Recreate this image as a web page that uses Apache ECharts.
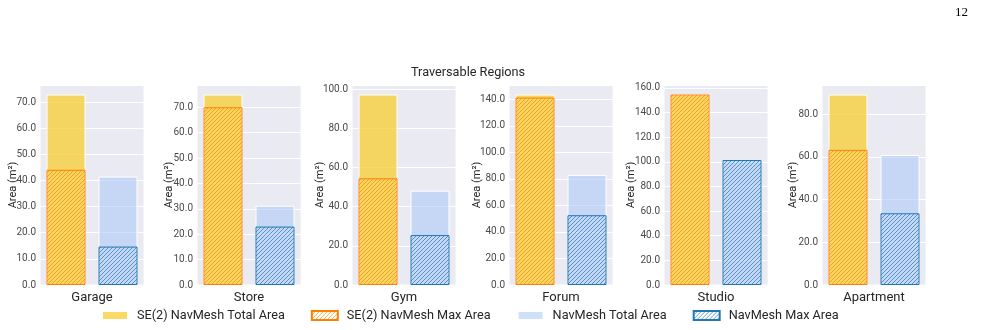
<!DOCTYPE html>
<html>
<head>
<meta charset="utf-8">
<script src="https://cdn.jsdelivr.net/npm/echarts@6/dist/echarts.min.js"></script>
<style>
  html, body { margin: 0; padding: 0; background: #fff; }
  #chart { width: 986px; height: 330px; }
</style>
</head>
<body>
<div id="chart"></div>
<script>
// values (m²)
var scenes = ['Garage', 'Store', 'Gym', 'Forum', 'Studio', 'Apartment'];
var se2Total = [72.9, 75.0, 97.3, 143.6, 154.7, 89.2];
var se2Max = [44.1, 70.0, 54.5, 141.3, 154.7, 63.3];
var navTotal = [41.5, 31.2, 48.2, 83.0, 101.5, 60.9];
var navMax = [14.7, 23.0, 25.5, 52.6, 101.5, 33.6];
var tickStep = [10, 10, 20, 20, 20, 20];
var seriesNames = ['SE(2) NavMesh Total Area', 'SE(2) NavMesh Max Area', 'NavMesh Total Area', 'NavMesh Max Area'];

// layout
var gridLeft = [40, 197, 352, 509, 664, 822];
var gridWidth = 104;
var yNameGap = [21, 22, 26, 26, 27, 23];

// diagonal hatch tile, like matplotlib '////'
function hatch(color) {
  var c = document.createElement('canvas');
  c.width = 4; c.height = 4;
  var g = c.getContext('2d');
  g.strokeStyle = color;
  g.lineWidth = 1;
  g.beginPath();
  g.moveTo(0, 4); g.lineTo(4, 0);
  g.moveTo(-1, 1); g.lineTo(1, -1);
  g.moveTo(3, 5); g.lineTo(5, 3);
  g.stroke();
  return c;
}

var yellow = 'rgba(247, 205, 50, 0.75)';
var lightBlue = 'rgba(160, 195, 245, 0.5)';
var orange = '#ff8000';
var blue = '#1f77b4';
var orangeHatch = { image: hatch('rgba(255, 140, 10, 0.75)'), repeat: 'repeat' };
var blueHatch = { image: hatch('rgba(31, 119, 180, 0.7)'), repeat: 'repeat' };

var grids = [], xAxes = [], yAxes = [], series = [];

scenes.forEach(function (name, i) {
  var top = Math.max(se2Total[i], se2Max[i], navTotal[i], navMax[i]) * 1.05;
  var step = tickStep[i];
  grids.push({
    left: gridLeft[i], top: 85, width: gridWidth, height: 200,
    show: true, backgroundColor: '#EAEAF2', borderColor: '#fff', borderWidth: 1
  });
  xAxes.push({
    type: 'category', gridIndex: i, data: ['SE(2)', 'NavMesh'],
    axisLine: { show: false }, axisTick: { show: false }, axisLabel: { show: false },
    splitLine: { show: false },
    name: name, nameLocation: 'middle', nameGap: 6,
    nameTextStyle: { fontSize: 13, color: '#262626', fontFamily: 'Roboto' }
  });
  yAxes.push({
    type: 'value', gridIndex: i, min: 0, max: top, interval: step,
    axisLine: { show: false }, axisTick: { show: false },
    splitLine: { lineStyle: { color: '#fff', width: 1 } },
    axisLabel: {
      fontSize: 10, color: '#4a4a4a', fontFamily: 'Roboto', margin: 4,
      formatter: function (v) {
        var k = v / step;
        return Math.abs(k - Math.round(k)) < 1e-6 ? v.toFixed(1) : '';
      }
    },
    name: 'Area (m²)', nameLocation: 'middle', nameRotate: 90, nameGap: yNameGap[i],
    nameMoveOverlap: false,
    nameTextStyle: { fontSize: 11, color: '#262626', fontFamily: 'Roboto' }
  });

  var common = { type: 'bar', xAxisIndex: i, yAxisIndex: i, barWidth: '75%', barGap: '-100%', animation: false };
  series.push(Object.assign({}, common, {
    name: seriesNames[0], data: [se2Total[i], '-'],
    itemStyle: { color: yellow, borderColor: '#fff', borderWidth: 1 }
  }));
  series.push(Object.assign({}, common, {
    name: seriesNames[2], data: ['-', navTotal[i]],
    itemStyle: { color: lightBlue, borderColor: '#fff', borderWidth: 1 }
  }));
  series.push(Object.assign({}, common, {
    name: seriesNames[1], data: [se2Max[i], '-'],
    itemStyle: { color: orangeHatch, borderColor: orange, borderWidth: 1 }
  }));
  series.push(Object.assign({}, common, {
    name: seriesNames[3], data: ['-', navMax[i]],
    itemStyle: { color: blueHatch, borderColor: blue, borderWidth: 1 }
  }));
});

var chart = echarts.init(document.getElementById('chart'), null, { renderer: 'canvas' });
chart.setOption({
  backgroundColor: '#fff',
  animation: false,
  title: [
    {
      text: 'Traversable Regions', left: 411, top: 66, padding: 0,
      textStyle: { fontSize: 12.7, fontWeight: 'normal', color: '#262626', fontFamily: 'Roboto' }
    },
    {
      text: '12', left: 955, top: 6, padding: 0,
      textStyle: { fontSize: 13, fontWeight: 'normal', color: '#000', fontFamily: 'Liberation Serif' }
    }
  ],
  legend: {
    data: seriesNames, left: 101, top: 309, padding: 0,
    icon: 'rect', itemWidth: 26, itemHeight: 9, itemGap: 26,
    textStyle: { fontSize: 12.7, color: '#262626', fontFamily: 'Roboto', padding: [0, 0, 0, 4] }
  },
  grid: grids,
  xAxis: xAxes,
  yAxis: yAxes,
  series: series
});
</script>
</body>
</html>
